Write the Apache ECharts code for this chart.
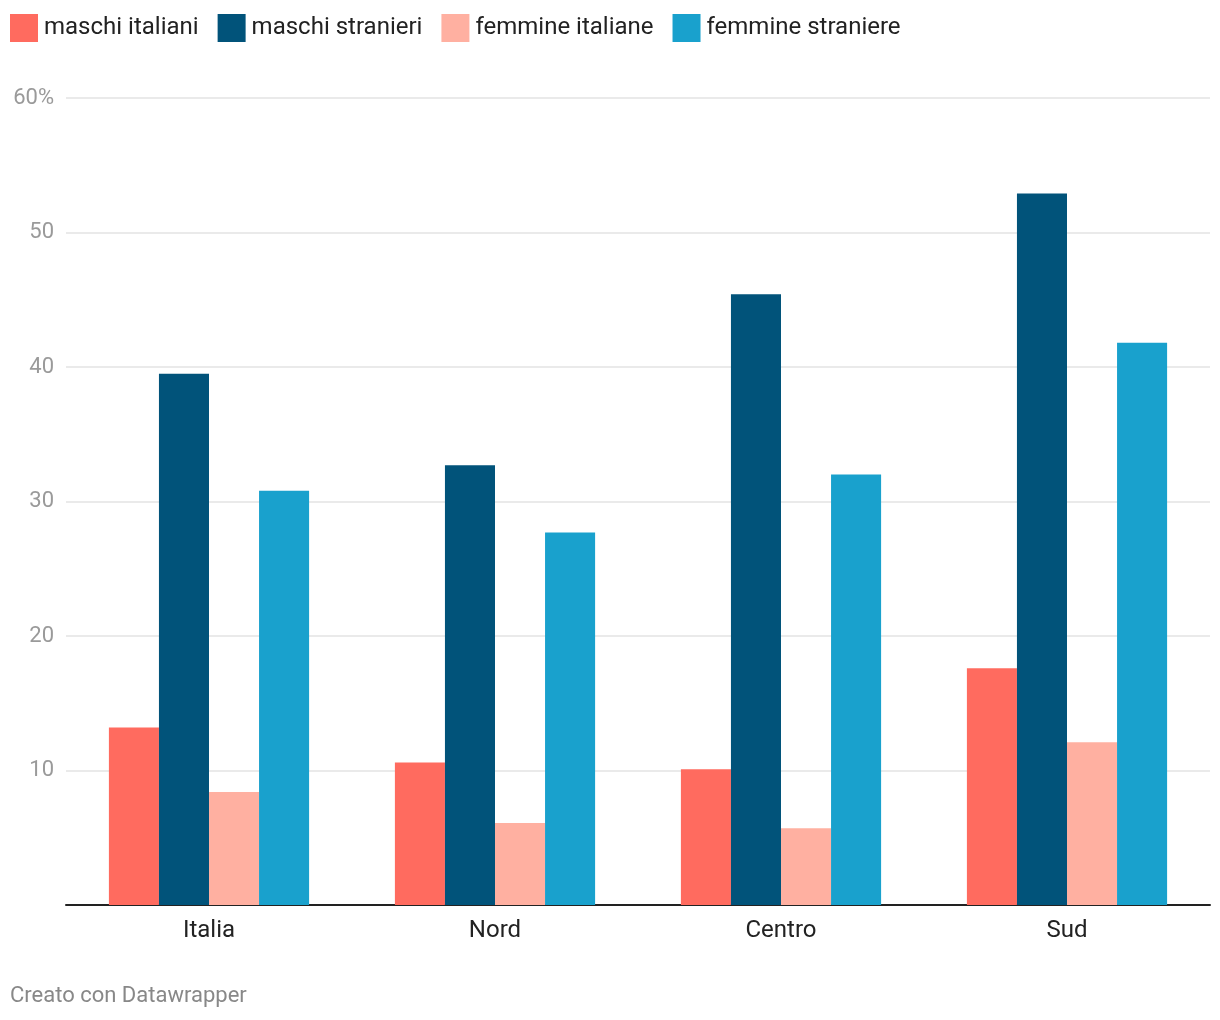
<!DOCTYPE html>
<html><head><meta charset="utf-8">
<script src="https://cdn.jsdelivr.net/npm/echarts@6/dist/echarts.min.js"></script>
<style>html,body{margin:0;padding:0;background:#fff}#c{width:1220px;height:1020px}</style>
</head><body><div id="c"></div>
<script>
const categories = ['Italia', 'Nord', 'Centro', 'Sud'];
const seriesNames = ['maschi italiani', 'maschi stranieri', 'femmine italiane', 'femmine straniere'];
const maschiItaliani = [13.2, 10.6, 10.1, 17.6];
const maschiStranieri = [39.5, 32.7, 45.4, 52.9];
const femmineItaliane = [8.4, 6.1, 5.7, 12.1];
const femmineStraniere = [30.8, 27.7, 32.0, 41.8];
const colors = ['#FF6B5F', '#01537A', '#FFB0A1', '#19A1CD'];
const values = [maschiItaliani, maschiStranieri, femmineItaliane, femmineStraniere];

const chart = echarts.init(document.getElementById('c'));
chart.setOption({
  animation: false,
  textStyle: { fontFamily: 'Roboto' },
  legend: {
    left: 5, top: 9, itemWidth: 28, itemHeight: 28, itemGap: 19,
    icon: 'rect',
    textStyle: { fontSize: 24, color: '#222', fontFamily: 'Roboto', padding: [0, 0, 0, 1] },
    data: seriesNames
  },
  graphic: [{
    type: 'text', left: 10, top: 985,
    style: { text: 'Creato con Datawrapper', fontSize: 22, fill: '#888', fontFamily: 'Roboto' }
  }],
  grid: { left: 66, right: 10, top: 98, bottom: 115, containLabel: false },
  xAxis: {
    type: 'category', data: categories,
    axisLine: { lineStyle: { color: '#222', width: 2 } },
    axisTick: { show: false },
    axisLabel: { fontSize: 24, color: '#222', margin: 14 }
  },
  yAxis: {
    type: 'value', min: 0, max: 60, interval: 10,
    axisLine: { show: false }, axisTick: { show: false },
    splitLine: { lineStyle: { color: '#e3e3e3', width: 1.5 } },
    axisLabel: {
      fontSize: 22, color: '#9a9a9a', margin: 12,
      formatter: v => v === 60 ? '60%' : (v === 0 ? '' : String(v))
    }
  },
  series: seriesNames.map((n, i) => ({
    name: n, type: 'bar', data: values[i],
    barGap: '0%', barCategoryGap: '30%',
    itemStyle: { color: colors[i] }
  }))
});
</script></body></html>
